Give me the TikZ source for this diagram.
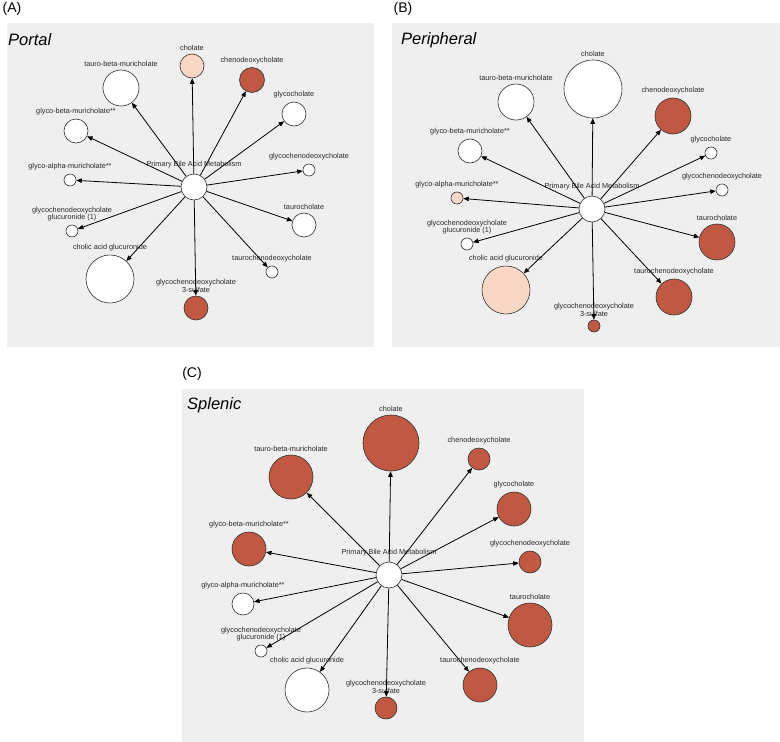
\documentclass[tikz,border=0pt]{standalone}
\usepackage{fontspec}
\setmainfont{Liberation Sans}
\usetikzlibrary{arrows.meta}
\definecolor{bgc}{RGB}{239,239,239}
\definecolor{darkc}{RGB}{192,88,66}
\definecolor{peachc}{RGB}{250,214,196}
\definecolor{edgec}{RGB}{50,50,50}
\definecolor{labc}{RGB}{40,40,40}
\newcommand\mnode[6]{\node[met,minimum size=#4pt,fill=#5,label={[lab]above:#6}] (#1) at (#2,#3) {};}
\newcommand\hubnode[3]{\node[met,minimum size=26pt,fill=white,label={[lab,label distance=5pt]above:Primary Bile Acid Metabolism}] (#1) at (#2,#3) {};}
\begin{document}
\begin{tikzpicture}[x=1pt,y=-1pt,
  met/.style={circle,draw=edgec,line width=0.6pt,inner sep=0pt},
  lab/.style={font=\fontsize{7.3}{7.8}\selectfont,text=labc,align=center,inner sep=0pt,label distance=3pt},
  arr/.style={-{Triangle[length=5.5pt,width=4.5pt]},line width=0.8pt,draw=black},
  panel/.style={fill=bgc,draw=none},
  plabel/.style={font=\fontsize{14}{16}\selectfont,anchor=center,inner sep=0pt},
  ptitle/.style={font=\fontsize{16.5}{18}\selectfont\itshape,anchor=west,inner sep=0pt}]
\useasboundingbox (0,0) rectangle (780,742);
\fill[white] (0,0) rectangle (780,742);
% panels
\path[panel] (7,23) rectangle (374,347);
\path[panel] (392,23) rectangle (780,347);
\path[panel] (182,389) rectangle (584,742);
\node[plabel] (labA) at (12,9) {(A)};
\node[plabel] (labB) at (403,9) {(B)};
\node[plabel] (labC) at (192,374) {(C)};
\node[ptitle] (tA) at (8,40) {Portal};
\node[ptitle] (tB) at (401,40) {Peripheral};
\node[ptitle] (tC) at (187,405) {Splenic};
% ---------- Panel A ----------
\hubnode{A-hub}{194}{187}
\mnode{A-cho}{192}{66}{24}{peachc}{cholate}
\mnode{A-cdc}{252}{80}{25}{darkc}{chenodeoxycholate}
\mnode{A-tbm}{121}{88}{36}{white}{tauro-beta-muricholate}
\mnode{A-gc}{294}{114}{24}{white}{glycocholate}
\mnode{A-gbm}{76}{131}{24}{white}{glyco-beta-muricholate**}
\mnode{A-gcdc}{309}{170}{12}{white}{glycochenodeoxycholate}
\mnode{A-gam}{70}{180}{12}{white}{glyco-alpha-muricholate**}
\mnode{A-tc}{304}{225}{24}{white}{taurocholate}
\mnode{A-gcdg}{72}{231}{12}{white}{glycochenodeoxycholate\\glucuronide (1)}
\mnode{A-cag}{110}{279}{48}{white}{cholic acid glucuronide}
\mnode{A-tcdc}{272}{272}{12}{white}{taurochenodeoxycholate}
\mnode{A-gcds}{196}{308}{24}{darkc}{glycochenodeoxycholate\\3-sulfate}
\foreach \n in {cho,cdc,tbm,gc,gbm,gcdc,gam,tc,gcdg,cag,tcdc,gcds}
  \draw[arr] (A-hub) -- (A-\n);
% ---------- Panel B ----------
\hubnode{B-hub}{592}{209}
\mnode{B-cho}{593}{89}{58}{white}{cholate}
\mnode{B-tbm}{516}{102}{36}{white}{tauro-beta-muricholate}
\mnode{B-cdc}{673}{116}{36}{darkc}{chenodeoxycholate}
\mnode{B-gbm}{470}{151}{24}{white}{glyco-beta-muricholate**}
\mnode{B-gc}{711}{153}{12}{white}{glycocholate}
\mnode{B-gcdc}{722}{190}{12}{white}{glycochenodeoxycholate}
\mnode{B-gam}{457}{198}{12}{peachc}{glyco-alpha-muricholate**}
\mnode{B-tc}{717}{242}{36}{darkc}{taurocholate}
\mnode{B-gcdg}{467}{244}{12}{white}{glycochenodeoxycholate\\glucuronide (1)}
\mnode{B-cag}{506}{290}{48}{peachc}{cholic acid glucuronide}
\mnode{B-tcdc}{674}{297}{36}{darkc}{taurochenodeoxycholate}
\mnode{B-gcds}{594}{326}{12}{darkc}{glycochenodeoxycholate\\3-sulfate}
\foreach \n in {cho,cdc,tbm,gc,gbm,gcdc,gam,tc,gcdg,cag,tcdc,gcds}
  \draw[arr] (B-hub) -- (B-\n);
% ---------- Panel C ----------
\hubnode{C-hub}{389}{575}
\mnode{C-cho}{391}{443}{56}{darkc}{cholate}
\mnode{C-tbm}{291}{477}{44}{darkc}{tauro-beta-muricholate}
\mnode{C-cdc}{479}{459}{22}{darkc}{chenodeoxycholate}
\mnode{C-gc}{514}{509}{34}{darkc}{glycocholate}
\mnode{C-gbm}{249}{549}{34}{darkc}{glyco-beta-muricholate**}
\mnode{C-gcdc}{530}{562}{22}{darkc}{glycochenodeoxycholate}
\mnode{C-gam}{243}{604}{22}{white}{glyco-alpha-muricholate**}
\mnode{C-tc}{530}{625}{44}{darkc}{taurocholate}
\mnode{C-gcdg}{261}{651}{12}{white}{glycochenodeoxycholate\\glucuronide (1)}
\mnode{C-cag}{307}{690}{44}{white}{cholic acid glucuronide}
\mnode{C-tcdc}{480}{685}{34}{darkc}{taurochenodeoxycholate}
\mnode{C-gcds}{386}{708}{22}{darkc}{glycochenodeoxycholate\\3-sulfate}
\foreach \n in {cho,cdc,tbm,gc,gbm,gcdc,gam,tc,gcdg,cag,tcdc,gcds}
  \draw[arr] (C-hub) -- (C-\n);
\end{tikzpicture}
\end{document}
